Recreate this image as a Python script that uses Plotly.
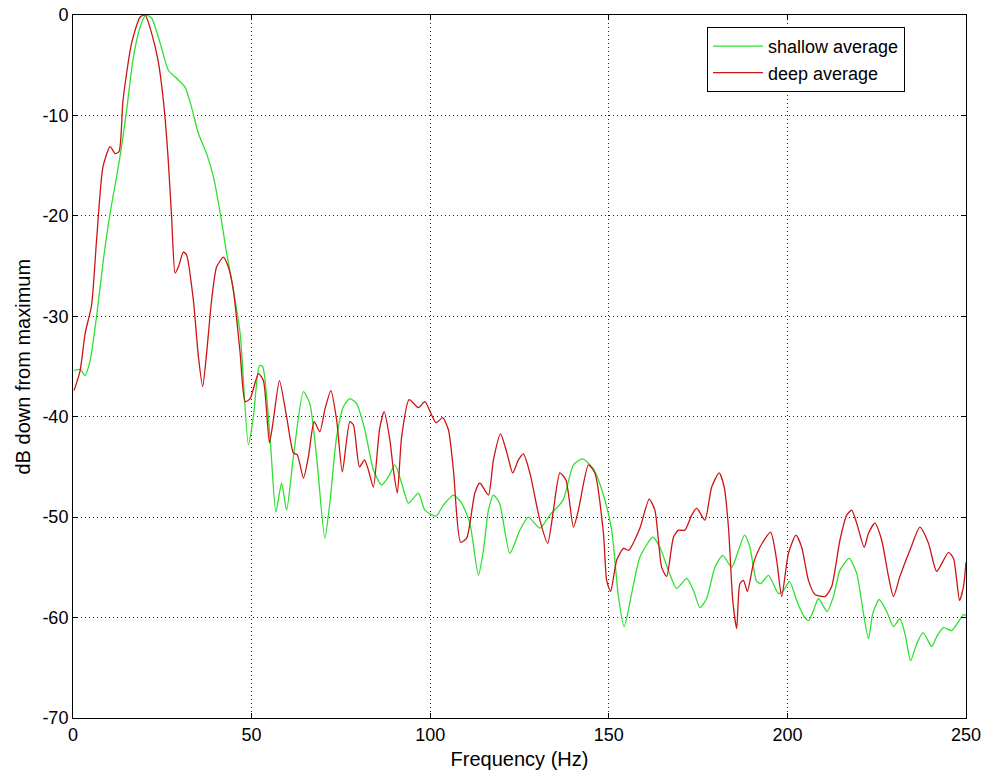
import plotly.graph_objects as go

# ---- data ----
shallow_freq = [0.3, 2, 3.4, 4.8, 6.6, 8.5, 10.4, 12.2, 13.6, 15,
                16.9, 18.8, 20.4, 22, 24.4, 26.7, 29, 31.4, 33.2, 35.1,
                37.4, 39.3, 41.2, 43, 44.9, 46.8, 49.1, 50.5, 52.2, 53.1,
                55.2, 56.8, 58.4, 59.8, 61.7, 64.5, 66.3, 68.2, 70.5, 71.9,
                73.8, 75.7, 77.5, 79.4, 81.7, 84.1, 86.4, 88.3, 90.1, 92,
                93.9, 96.7, 98.5, 101.6, 103.7, 106.5, 108.8, 111.1, 113.5, 114.9,
                116.3, 117.7, 119.4, 122.3, 125.1, 127.5, 130.7, 133.5, 137.2, 140.1,
                142.7, 145.7, 148.5, 150.8, 152.7, 154.3, 156.4, 158.7, 162.3, 164.3,
                166.7, 169, 171.8, 173.7, 175.5, 177.4, 179.7, 181.9, 184.4, 186.3,
                188, 189.5, 191.4, 192.6, 194.7, 197.5, 198.9, 200.6, 202.6, 204.5,
                205.9, 207.3, 208.7, 211.1, 212.9, 214.7, 217.3, 219.4, 221.3, 222.7,
                223.9, 225.7, 227.8, 229.7, 231.5, 232.9, 234.5, 236.2, 238, 240.4,
                241.8, 243.7, 246, 247.9, 249.3, 250]
shallow_db = [-35.4, -35.3, -35.9, -34.4, -30, -24.4, -19.7, -16.1, -13.1, -9.5,
              -4.2, -1.2, 0, -0.3, -2.8, -5.5, -6.3, -7.2, -9.2, -11.8,
              -13.8, -16.1, -19.7, -23.7, -27.4, -31.7, -42.8, -40, -34.9, -35,
              -42.3, -49.5, -46.6, -49.3, -44, -37.5, -38.7, -44, -52.1, -48.6,
              -42, -39, -38.2, -38.7, -41.3, -45.3, -46.8, -46, -44.8, -46.6,
              -48.6, -47.6, -49.3, -49.9, -48.8, -47.8, -48.6, -50.6, -55.8, -53.3,
              -49.3, -47.8, -48.6, -53.6, -51.3, -50, -51.1, -49.8, -48.3, -44.8,
              -44.2, -45.2, -47.8, -51.3, -57.9, -60.9, -57.6, -54, -52, -53,
              -55.3, -57.1, -56.1, -57.3, -59, -58.1, -55, -53.8, -55, -53.3,
              -51.8, -53, -56.4, -56.6, -55.8, -57.6, -57.3, -56.4, -58.3, -59.8,
              -60.3, -59.3, -58.1, -59.4, -57.9, -55.3, -54.1, -55.6, -59.6, -62.1,
              -59.6, -58.2, -59.4, -60.9, -60.1, -61.6, -64.3, -62.6, -61.5, -62.9,
              -61.9, -61, -61.3, -60.4, -59.7, -59.8]

deep_freq = [0.3, 2, 3.4, 5.2, 6.6, 8.4, 10.4, 11.8, 12.9, 14,
             16.4, 18.8, 20.2, 22, 23.8, 25.3, 26.6, 27.6, 28.6, 29.5,
             30.9, 31.8, 33.7, 35.1, 36.3, 37.4, 38.8, 40.2, 42.1, 43.5,
             44.9, 46.8, 48.2, 49.6, 51.9, 53.3, 55, 56.1, 57.8, 59.8,
             61.7, 62.8, 64.5, 65.9, 67.5, 69.1, 70.5, 72.2, 73.8, 75.4,
             77.5, 78.5, 80.2, 81.6, 82.7, 84.1, 85.8, 87.1, 88.7, 89.7,
             90.8, 92, 94.1, 96.7, 98.5, 101.6, 103.5, 105.1, 106.5, 108.5,
             110.2, 112.5, 113.9, 116.3, 117.7, 119.7, 121.4, 123.1, 124.7, 126.1,
             127.9, 130.7, 132.9, 134.5, 136.3, 138, 140.1, 141.5, 144.3, 146.1,
             148.5, 149.4, 150.5, 152.2, 154.1, 155.5, 158.7, 161.3, 162.9, 164.8,
             166.2, 168.1, 169.5, 171.3, 173.2, 174.6, 176.9, 178.8, 180.9, 182.3,
             183.5, 184.7, 185.8, 186.7, 187.7, 188.8, 190.5, 192.3, 195.3, 197,
             198.4, 200.3, 202.4, 204, 205.9, 207.7, 210.5, 212.4, 214.7, 216.6,
             218, 219.4, 221.5, 222.7, 224.5, 226.4, 228.3, 229.7, 231.5, 234.3,
             237.1, 239.5, 241.8, 245.1, 246.5, 248.2, 249.3, 250]
deep_db = [-37.4, -35.4, -31.7, -28.9, -22.4, -15.1, -13.1, -13.8, -13.6, -8.5,
           -2.8, -0.2, 0, -1.8, -4.5, -8.5, -14.1, -20.1, -25.7, -25.1,
           -23.6, -23.9, -28.4, -34, -37, -33.7, -28.4, -25.1, -24.1, -25.1,
           -27.4, -33.7, -38.5, -38.2, -35.7, -36.4, -42.6, -40.3, -36.4, -40,
           -43.6, -43.8, -46.1, -44, -40.5, -41.5, -39.3, -37.4, -40.3, -45.5,
           -40.5, -40.8, -45, -44.3, -45.3, -47, -41.3, -39.5, -42.3, -45.3,
           -47.6, -42, -38.3, -39.1, -38.5, -40.6, -40.1, -41.3, -45.3, -52.5,
           -52.1, -47.6, -46.6, -47.8, -44.3, -41.7, -43.5, -45.6, -44.3, -43.7,
           -45.6, -50.3, -52.6, -49.3, -45.6, -46.3, -51, -49.3, -44.8, -45.6,
           -51.6, -56.3, -57.4, -54.3, -53.1, -53.3, -51.1, -48.2, -49.3, -55,
           -55.9, -52, -51.3, -51.3, -49.8, -49.1, -50.3, -47, -45.6, -47,
           -51, -58.3, -61.1, -56.6, -56.3, -57.4, -54.6, -53, -51.5, -54.3,
           -57.9, -53.6, -51.8, -53, -56.3, -57.7, -57.9, -56.9, -52.3, -49.8,
           -49.3, -50.6, -53, -51.6, -50.6, -52.3, -55.9, -57.9, -55.9, -53.3,
           -51, -52.6, -55.4, -53.5, -54.1, -58.3, -56.9, -54.5]

x_ticks = [0, 50, 100, 150, 200, 250]
y_ticks = [0, -10, -20, -30, -40, -50, -60, -70]

FONT = "Liberation Sans, Arial, sans-serif"

fig = go.Figure()
fig.add_trace(go.Scatter(x=shallow_freq, y=shallow_db, mode="lines",
                         name="shallow average",
                         line=dict(color="#2fe02f", width=1.3, shape="spline", smoothing=0.6)))
fig.add_trace(go.Scatter(x=deep_freq, y=deep_db, mode="lines",
                         name="deep average",
                         line=dict(color="#cc1414", width=1.3, shape="spline", smoothing=0.6)))

axis_common = dict(showline=True, linecolor="black", linewidth=1, mirror="ticks",
                   ticks="inside", ticklen=5, tickcolor="black", automargin=False,
                   ticklabeloverflow="allow",
                   showgrid=True, gridcolor="#222222", gridwidth=1, griddash="1px,3px",
                   zeroline=False, tickfont=dict(family=FONT, size=18, color="black"))

fig.update_xaxes(range=[0, 250], tickvals=x_ticks, ticktext=[str(v) for v in x_ticks],
                 title=dict(text="Frequency (Hz)", font=dict(family=FONT, size=20, color="black"),
                            standoff=8),
                 **axis_common)
fig.update_yaxes(range=[-70, 0], tickvals=y_ticks, ticktext=[str(v) for v in y_ticks],
                 **axis_common)

# y-axis title as a rotated text placed like the reference
fig.add_annotation(text="dB down from maximum", xref="paper", yref="paper",
                   x=-0.0571, y=0.5, xanchor="center", yanchor="middle",
                   textangle=-90, showarrow=False,
                   font=dict(family=FONT, size=20, color="black"))

fig.update_layout(
    width=988, height=781,
    margin=dict(l=73, r=22, t=15, b=63),
    paper_bgcolor="white", plot_bgcolor="white",
    font=dict(family=FONT, size=18, color="black"),
    legend=dict(x=0.710, y=0.983, xanchor="left", yanchor="top",
                bgcolor="white", bordercolor="black", borderwidth=1,
                font=dict(family=FONT, size=18, color="black"),
                itemwidth=50, tracegroupgap=0),
    showlegend=True,
)

# remove the browser's default 8px page margin so the figure fills the window
fig.write_html("out.html",
               config={"displayModeBar": False},
               post_script="document.body.style.margin='0';document.body.style.overflow='hidden';")
